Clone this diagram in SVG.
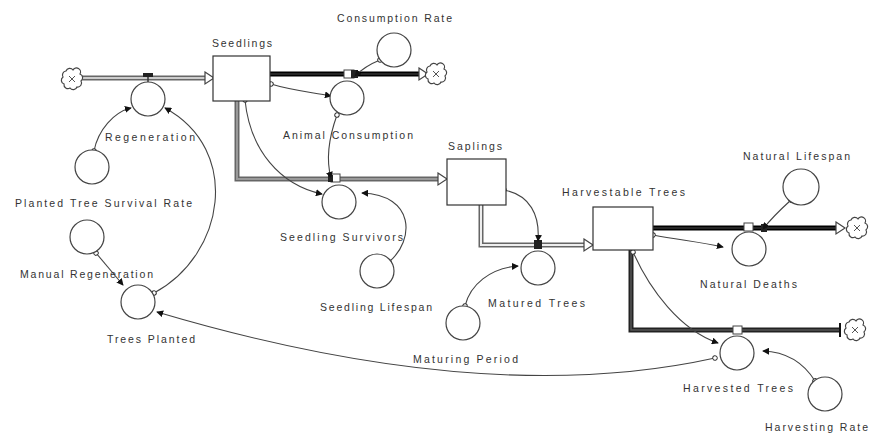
<svg xmlns="http://www.w3.org/2000/svg" width="873" height="436" viewBox="0 0 873 436">
<defs>
<style>
.lbl{font-family:"Liberation Sans",Arial,sans-serif;font-size:10.5px;fill:#333}
.aux{fill:#fff;stroke:#444;stroke-width:1.2}
.stock{fill:#fff;stroke:#333;stroke-width:1.2}
.po-g{fill:none;stroke:#666;stroke-width:5}
.pi-g{fill:none;stroke:#ccc;stroke-width:2}
.po-b{fill:none;stroke:#000;stroke-width:5}
.pi-b{fill:none;stroke:#333;stroke-width:1.5}
.head{fill:#fff;stroke:#444;stroke-width:1.2}
.cloud{fill:#fff;stroke:#444;stroke-width:1.2}
.conn{fill:none;stroke:#444;stroke-width:1.1;marker-start:url(#dot);marker-end:url(#arr)}
.valve{fill:#222}
</style>
<marker id="arr" viewBox="0 0 8 8" refX="7" refY="4" markerWidth="7" markerHeight="7" markerUnits="userSpaceOnUse" orient="auto">
<path d="M0,0 L8,4 L0,8 Z" fill="#111"/>
</marker>
<marker id="dot" viewBox="0 0 8 8" refX="4" refY="4" markerWidth="6" markerHeight="6" markerUnits="userSpaceOnUse" orient="auto">
<circle cx="4" cy="4" r="3" fill="#fff" stroke="#333" stroke-width="1.3"/>
</marker>
<g id="cloudShape">
<path d="M-6,-8 A4,4 0 0 1 1,-9 A4,4 0 0 1 8,-5 A4,4 0 0 1 9,2 A4,4 0 0 1 5,8 A4,4 0 0 1 -2,9 A4,4 0 0 1 -8,5 A4,4 0 0 1 -9,-2 A4,4 0 0 1 -6,-8 Z" class="cloud"/>
<path d="M-3,-3 L3,3 M3,-3 L-3,3" stroke="#555" stroke-width="1" fill="none"/>
</g>
</defs>

<g id="connectors">
<g id="pipes">
<path class="po-g" d="M81,78 H206"/><path class="pi-g" d="M81,78 H206"/>
<polygon class="head" points="205,72 214,78 205,84"/>
<path class="po-b" d="M270,74 H420"/><path class="pi-b" d="M270,74 H420"/>
<polygon class="head" points="419,68 428,74 419,80"/>
<path class="po-g" d="M237,101 V179 H439"/><path class="pi-g" d="M237,101 V179 H439" style="stroke:#999"/>
<polygon class="head" points="438,173 447,179 438,185"/>
<path class="po-g" d="M481,205 V245 H585"/><path class="pi-g" d="M481,205 V245 H585" style="stroke:#eee"/>
<polygon class="head" points="584,239 593,245 584,251"/>
<path class="po-b" d="M653,228 H837"/><path class="pi-b" d="M653,228 H837"/>
<polygon class="head" points="836,222 845,228 836,234"/>
<path class="po-b" d="M631,250 V330 H840" style="stroke:#222"/><path class="pi-b" d="M631,250 V330 H840" style="stroke:#555"/>
<path d="M840,323 V337" stroke="#111" stroke-width="2"/>
</g>
<use href="#cloudShape" x="72" y="79"/>
<use href="#cloudShape" x="436" y="74"/>
<use href="#cloudShape" x="857" y="228"/>
<use href="#cloudShape" x="855" y="330"/>
<rect class="valve" x="143" y="73" width="10" height="4"/>
<path d="M148,77 V82" stroke="#333" stroke-width="1.5"/>
<rect x="344" y="70" width="10" height="8" fill="#fff" stroke="#444" stroke-width="1"/>
<rect class="valve" x="351" y="70" width="7" height="8"/>
<rect x="331" y="174" width="9" height="8" fill="#fff" stroke="#444" stroke-width="1"/>
<rect class="valve" x="328" y="175" width="5" height="7"/>
<rect class="valve" x="534" y="240" width="8" height="9"/>
<rect x="744" y="223" width="9" height="8" fill="#fff" stroke="#444" stroke-width="1"/>
<rect class="valve" x="761" y="224" width="6" height="8"/>
<rect x="733" y="326" width="9" height="8" fill="#fff" stroke="#444" stroke-width="1"/>
<path class="conn" d="M94,151 C98,130 114,112 131,108"/>
<path class="conn" d="M154,293 C225,255 242,150 165,108"/>
<path class="conn" d="M96,253 L123,285"/>
<path class="conn" d="M715,358 Q484,409 157,312"/>
<path class="conn" d="M271,84 C290,90 310,92 331,96"/>
<path class="conn" d="M380,60 C370,64 361,70 355,76"/>
<path class="conn" d="M245,100 C250,150 280,185 322,194"/>
<path class="conn" d="M337,115 C328,140 326,160 331,178"/>
<path class="conn" d="M389,262 C415,240 415,195 362,193"/>
<path class="conn" d="M504,190 C530,195 540,215 538,241"/>
<path class="conn" d="M465,306 C470,285 490,268 518,266"/>
<path class="conn" d="M653,235 C680,240 700,242 723,247"/>
<path class="conn" d="M791,200 C780,210 770,220 763,229"/>
<path class="conn" d="M633,252 C650,290 680,330 718,343"/>
<path class="conn" d="M815,381 C805,365 790,352 763,351"/>
</g>

<g id="Seedlings"><rect class="stock" x="213" y="56" width="57" height="45"/><text class="lbl" x="212" y="47" textLength="60" lengthAdjust="spacing">Seedlings</text></g>
<g id="Saplings"><rect class="stock" x="447" y="159" width="59" height="46"/><text class="lbl" x="448" y="150" textLength="54" lengthAdjust="spacing">Saplings</text></g>
<g id="HarvestableTrees"><rect class="stock" x="593" y="207" width="60" height="43"/><text class="lbl" x="562" y="196" textLength="123" lengthAdjust="spacing">Harvestable Trees</text></g>

<g id="Regeneration"><circle class="aux" cx="148" cy="99" r="17"/><text class="lbl" x="105" y="141" textLength="90" lengthAdjust="spacing">Regeneration</text></g>
<g id="ConsumptionRate"><circle class="aux" cx="394" cy="50" r="17"/><text class="lbl" x="337" y="22" textLength="115" lengthAdjust="spacing">Consumption Rate</text></g>
<g id="AnimalConsumption"><circle class="aux" cx="347" cy="98" r="17"/><text class="lbl" x="283" y="139" textLength="130" lengthAdjust="spacing">Animal Consumption</text></g>
<g id="PlantedTreeSurvivalRate"><circle class="aux" cx="92" cy="167" r="17"/><text class="lbl" x="15" y="207" textLength="177" lengthAdjust="spacing">Planted Tree Survival Rate</text></g>
<g id="ManualRegeneration"><circle class="aux" cx="87" cy="237" r="17"/><text class="lbl" x="20" y="278" textLength="133" lengthAdjust="spacing">Manual Regeneration</text></g>
<g id="TreesPlanted"><circle class="aux" cx="138" cy="302" r="17"/><text class="lbl" x="107" y="343" textLength="88" lengthAdjust="spacing">Trees Planted</text></g>
<g id="SeedlingSurvivors"><circle class="aux" cx="339" cy="202" r="17"/><text class="lbl" x="280" y="241" textLength="123" lengthAdjust="spacing">Seedling Survivors</text></g>
<g id="SeedlingLifespan"><circle class="aux" cx="377" cy="271" r="17"/><text class="lbl" x="320" y="311" textLength="112" lengthAdjust="spacing">Seedling Lifespan</text></g>
<g id="MaturedTrees"><circle class="aux" cx="538" cy="268" r="17"/><text class="lbl" x="488" y="307" textLength="97" lengthAdjust="spacing">Matured Trees</text></g>
<g id="MaturingPeriod"><circle class="aux" cx="463" cy="323" r="17"/><text class="lbl" x="413" y="363" textLength="105" lengthAdjust="spacing">Maturing Period</text></g>
<g id="NaturalLifespan"><circle class="aux" cx="801" cy="187" r="18"/><text class="lbl" x="743" y="160" textLength="107" lengthAdjust="spacing">Natural Lifespan</text></g>
<g id="NaturalDeaths"><circle class="aux" cx="749" cy="249" r="17"/><text class="lbl" x="700" y="288" textLength="97" lengthAdjust="spacing">Natural Deaths</text></g>
<g id="HarvestedTrees"><circle class="aux" cx="737" cy="353" r="17"/><text class="lbl" x="683" y="392" textLength="110" lengthAdjust="spacing">Harvested Trees</text></g>
<g id="HarvestingRate"><circle class="aux" cx="825" cy="394" r="17"/><text class="lbl" x="765" y="431" textLength="103" lengthAdjust="spacing">Harvesting Rate</text></g>
</svg>
